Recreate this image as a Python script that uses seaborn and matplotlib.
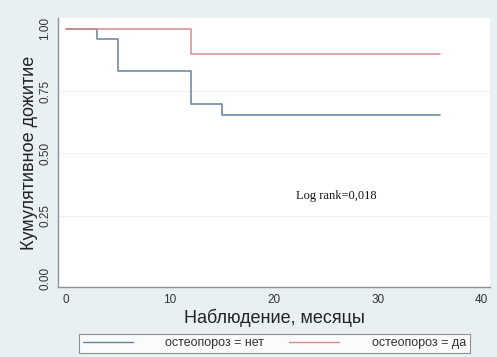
import matplotlib
matplotlib.use("Agg")
import matplotlib.pyplot as plt
import seaborn as sns
import pandas as pd
from matplotlib.lines import Line2D

# Data (Kaplan-Meier step values)
time_no = [0, 3, 5, 12, 15, 36]
surv_no = [1.00, 0.96, 0.83, 0.70, 0.655, 0.655]
time_yes = [0, 12, 36]
surv_yes = [1.00, 0.90, 0.90]
groups = ["остеопороз = нет", "остеопороз = да"]
x_ticks = [0, 10, 20, 30, 40]
y_ticks = [0.00, 0.25, 0.50, 0.75, 1.00]
y_tick_labels = ["0.00", "0.25", "0.50", "0.75", "1.00"]

df = pd.concat([
    pd.DataFrame({"t": time_no, "s": surv_no, "g": groups[0]}),
    pd.DataFrame({"t": time_yes, "s": surv_yes, "g": groups[1]}),
])

sns.set_style("white")
plt.rcParams["font.family"] = ["Liberation Sans", "DejaVu Sans"]

bg = "#e9f0f3"
c_no = "#66829a"
c_yes = "#d98a8a"

fig = plt.figure(figsize=(4.97, 3.57), dpi=100, facecolor=bg)
ax = fig.add_axes([0.1167, 0.196, 0.869, 0.754])
ax.set_facecolor("white")

sns.lineplot(data=df, x="t", y="s", hue="g", palette=[c_no, c_yes],
             drawstyle="steps-post", linewidth=1.1, ax=ax, legend=False,
             estimator=None)

ax.set_xlim(-0.77, 40.8)
ax.set_ylim(-0.036, 1.044)
ax.set_xticks(x_ticks)
ax.set_yticks(y_ticks)
ax.set_yticklabels(y_tick_labels, rotation=90, va="center")
ax.tick_params(axis="both", direction="out", length=3, width=0.7,
               color="#888888", labelsize=8.5, labelcolor="#333333", pad=2)
for y in [0.25, 0.50, 0.75]:
    ax.axhline(y, color="#f1f3f1", linewidth=0.8, zorder=0)

for s in ["top", "right"]:
    ax.spines[s].set_visible(False)
for s in ["left", "bottom"]:
    ax.spines[s].set_color("#8a9296")
    ax.spines[s].set_linewidth(1.0)

ax.set_xlabel("Наблюдение, месяцы", fontsize=13, color="#222222", labelpad=2)
ax.set_ylabel("Кумулятивное дожитие", fontsize=13, color="#222222", labelpad=1)

ax.text(26, 0.33, "Log rank=0,018", family=["Liberation Serif"],
        fontsize=9, color="#111111", ha="center", va="center")

handles = [Line2D([0], [0], color=c_no, lw=1.0), Line2D([0], [0], color=c_yes, lw=1.0)]
leg = fig.legend(handles, groups,
                 loc="center", bbox_to_anchor=(0.552, 0.038), ncol=2,
                 fontsize=9, frameon=True, fancybox=False, handlelength=4.0,
                 columnspacing=2.0, borderpad=0.3, handletextpad=2.6,
                 labelcolor="#333333")
leg.get_frame().set_edgecolor("#777777")
leg.get_frame().set_linewidth(0.8)
leg.get_frame().set_facecolor("white")

fig.savefig("out.png", dpi=100, facecolor=bg)
